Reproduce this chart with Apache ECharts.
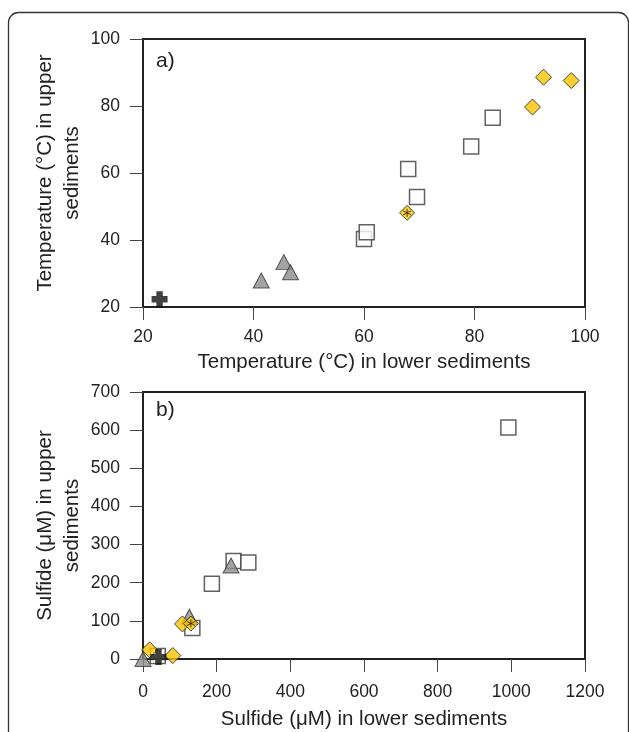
<!DOCTYPE html>
<html>
<head>
<meta charset="utf-8">
<style>
  html, body { margin: 0; padding: 0; background: #fff; }
  #chart { width: 629px; height: 732px; }
</style>
<script src="https://cdn.jsdelivr.net/npm/echarts@6/dist/echarts.min.js"></script>
</head>
<body>
<div id="chart"></div>
<script>
// panel a) temperature, [lower, upper]
var tempSquares = [[60, 40.3], [60.5, 42.3], [68, 61.2], [69.6, 52.8], [79.4, 67.9], [83.3, 76.5]];
var tempTriangles = [[41.4, 27.9], [45.5, 33.4], [46.7, 30.4]];
var tempDiamonds = [[90.5, 79.7], [92.5, 88.6], [97.5, 87.6]];
var tempStarDiamonds = [[67.8, 48.1]];
var tempCross = [[23, 22.3]];

// panel b) sulfide, [lower, upper]
var sulfSquares = [[992, 607], [246, 257], [286, 253], [187, 197], [134, 81], [40, 8]];
var sulfTriangles = [[239, 245], [126, 111], [0, 0]];
var sulfDiamonds = [[107, 92], [18, 24], [81, 9]];
var sulfStarDiamonds = [[130, 93]];
var sulfCross = [[42, 5]];

var font = 'Liberation Sans';
var ink = '#222';
var crossPath = 'path://M3,0 L7,0 L7,3 L10,3 L10,7 L7,7 L7,10 L3,10 L3,7 L0,7 L0,3 L3,3 Z';
var starPath = 'path://M0,-10 L0,10 M-8.66,-5 L8.66,5 M-8.66,5 L8.66,-5';

function axisX(idx, min, max, step, name, gap, labelGap) {
    return {
        type: 'value', gridIndex: idx, min: min, max: max, interval: step,
        name: name, nameLocation: 'middle', nameGap: gap, nameMoveOverlap: false,
        nameTextStyle: { fontFamily: font, fontSize: 20.5, color: ink, lineHeight: 24 },
        axisLine: { show: true, onZero: false, lineStyle: { color: ink, width: 2 } },
        axisTick: { show: true, length: 13, lineStyle: { color: '#444', width: 1 } },
        axisLabel: { margin: labelGap, fontFamily: font, fontSize: 17.5, color: ink,
            formatter: function (v) { return String(v); } },
        splitLine: { show: false }
    };
}

function axisY(idx, min, max, step, name) {
    return {
        type: 'value', gridIndex: idx, min: min, max: max, interval: step,
        name: name, nameLocation: 'middle', nameGap: 57, nameMoveOverlap: false,
        nameTextStyle: { fontFamily: font, fontSize: 20.5, color: ink, lineHeight: 27 },
        axisLine: { show: true, onZero: false, lineStyle: { color: ink, width: 2 } },
        axisTick: { show: true, length: 13, lineStyle: { color: '#444', width: 1 } },
        axisLabel: { margin: 23, fontFamily: font, fontSize: 17.5, color: ink },
        splitLine: { show: false }
    };
}

function markers(idx, squares, triangles, diamonds, stars, cross) {
    var base = { type: 'scatter', xAxisIndex: idx, yAxisIndex: idx, silent: true };
    return [
        Object.assign({}, base, { data: squares, symbol: 'rect', symbolSize: 15,
            itemStyle: { color: '#fff', borderColor: '#3a3a3a', borderWidth: 1.5 } }),
        Object.assign({}, base, { data: triangles, symbol: 'triangle', symbolSize: [16, 15],
            itemStyle: { color: '#8c8c8c', borderColor: '#333', borderWidth: 1 } }),
        Object.assign({}, base, { data: diamonds, symbol: 'diamond', symbolSize: 16,
            itemStyle: { color: '#f8c300', borderColor: '#222', borderWidth: 1 } }),
        Object.assign({}, base, { data: stars, symbol: 'diamond', symbolSize: 15,
            itemStyle: { color: '#f8c300', borderColor: '#222', borderWidth: 1 } }),
        Object.assign({}, base, { data: stars, symbol: starPath, symbolSize: 8,
            itemStyle: { color: 'none', borderColor: '#222', borderWidth: 1 } }),
        Object.assign({}, base, { data: cross, symbol: crossPath, symbolSize: 16,
            itemStyle: { color: '#111' } })
    ];
}

var chart = echarts.init(document.getElementById('chart'));
chart.setOption({
    animation: false,
    backgroundColor: '#fff',
    grid: [
        { left: 143, top: 39, width: 442, height: 268, show: true, borderColor: ink, borderWidth: 2, backgroundColor: 'transparent' },
        { left: 143, top: 392, width: 442, height: 267, show: true, borderColor: ink, borderWidth: 2, backgroundColor: 'transparent' }
    ],
    xAxis: [
        axisX(0, 20, 100, 20, 'Temperature (°C) in lower sediments', 43, 21),
        axisX(1, 0, 1200, 200, 'Sulfide (μM) in lower sediments', 48, 24)
    ],
    yAxis: [
        axisY(0, 20, 100, 20, 'Temperature (°C) in upper\nsediments'),
        axisY(1, 0, 700, 100, 'Sulfide (μM) in upper\nsediments')
    ],
    graphic: [
        { type: 'rect', shape: { x: 8.5, y: 12.5, width: 620, height: 780, r: 10 },
          style: { fill: 'none', stroke: '#333', lineWidth: 1.3 } },
        { type: 'text', left: 156, top: 51, style: { text: 'a)', font: '21px ' + font, fill: ink } },
        { type: 'text', left: 156, top: 400, style: { text: 'b)', font: '21px ' + font, fill: ink } }
    ],
    series: markers(0, tempSquares, tempTriangles, tempDiamonds, tempStarDiamonds, tempCross)
        .concat(markers(1, sulfSquares, sulfTriangles, sulfDiamonds, sulfStarDiamonds, sulfCross))
});
</script>
</body>
</html>
